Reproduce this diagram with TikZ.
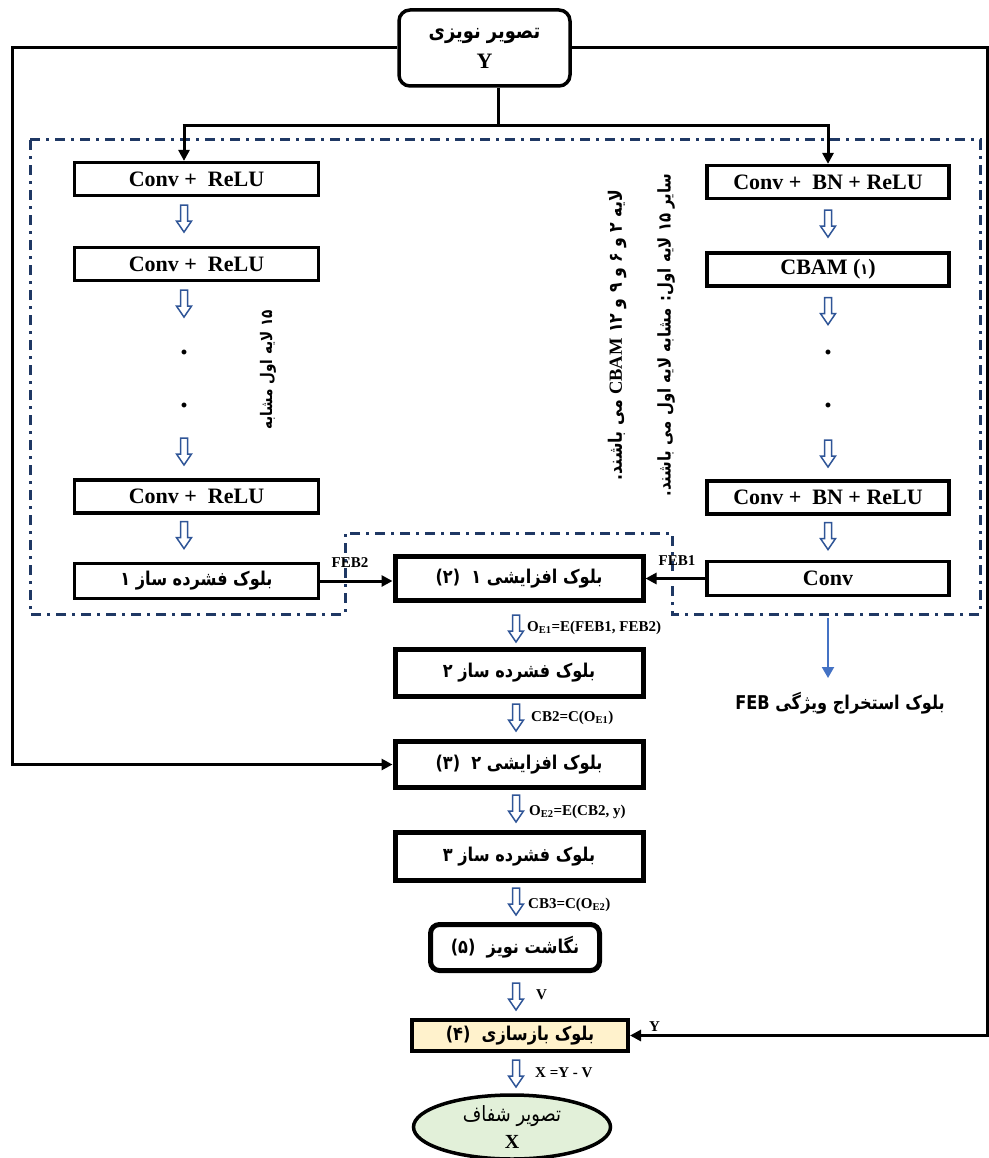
\documentclass[tikz,border=0pt]{standalone}
\usepackage{fontspec}
\setmainfont{Liberation Serif}
\newfontfamily\fa[Script=Arabic, FakeStretch=0.85]{DejaVu Sans}
\TeXXeTstate=1
\usetikzlibrary{arrows.meta,calc,shapes.geometric}
\definecolor{navy}{HTML}{1F3864}
\definecolor{harrow}{HTML}{2F5597}
\definecolor{thinblue}{HTML}{4472C4}
\definecolor{lightyellow}{HTML}{FFF2CC}
\definecolor{lightgreen}{HTML}{E2F0D9}
\newcommand{\fat}[1]{{\fa\bfseries\beginR #1\endR}}
\newcommand{\fan}[1]{{\fa\beginR #1\endR}}
\begin{document}
\begin{tikzpicture}[x=1pt,y=-1pt,
  box/.style={draw, line width=3.2pt, inner sep=0pt, align=center},
  cbox/.style={box, line width=5pt, minimum width=248pt},
  lat/.style={font=\fontsize{22}{24}\selectfont\bfseries},
  per/.style={font=\fontsize{19}{22}\selectfont},
  dotf/.style={font=\fontsize{30}{30}\selectfont\bfseries, inner sep=0pt},
  small/.style={font=\fontsize{15}{17}\selectfont\bfseries, inner sep=1pt},
  conn/.style={line width=3pt, -{Triangle[length=11pt,width=11pt]}},
  plain/.style={line width=3pt},
  hol/.style={draw=harrow, line width=1.5pt, fill=white, to path={
    let \p1=(\tikztostart) in
    (\x1-3.5pt,\y1-#1) -- (\x1+3.5pt,\y1-#1) -- (\x1+3.5pt,\y1-#1-16pt)
    -- (\x1+7.5pt,\y1-#1-16pt) -- (\x1,\y1-#1-27pt) -- (\x1-7.5pt,\y1-#1-16pt)
    -- (\x1-3.5pt,\y1-#1-16pt) -- cycle}},
  hol/.default=8pt,
  region/.style={draw=navy, line width=3pt, dash pattern=on 10pt off 6pt on 3pt off 6pt},
]
\useasboundingbox (0,0) rectangle (988,1158);

% dashed feature-extraction region
\draw[region] (30,140) -- (980,140) -- (980,614) -- (672,614) -- (672,533)
  -- (345,533) -- (345,614) -- (30,614) -- cycle;

% column coordinates
\coordinate (cl) at (184,0);
\coordinate (cr) at (828,0);
\coordinate (cc) at (516,0);
\coordinate (lp) at (12,0);
\coordinate (rp) at (987,0);
\coordinate (jt) at (498,126);
\coordinate (jl) at (184,126);
\coordinate (jr) at (828,126);

% top node
\node[box, line width=3.5pt, rounded corners=11pt, minimum width=171pt, minimum height=76pt,
  font=\fontsize{21}{26}\selectfont]
  (T) at (484.5,48) {\fat{تصویر نویزی}\\[4pt]{\fontsize{22}{24}\selectfont\bfseries Y}};

% left column
\node[box, lat, minimum width=244pt, minimum height=33pt] (L1) at (196.5,179) {Conv +\ \ ReLU};
\node[box, lat, minimum width=244pt, minimum height=33pt] (L2) at (196.5,264) {Conv +\ \ ReLU};
\node[dotf] (LD1) at (184,352) {.};
\node[dotf] (LD2) at (184,405) {.};
\node[box, lat, minimum width=244pt, minimum height=33pt] (L3) at (196.5,496.5) {Conv +\ \ ReLU};
\node[box, per, minimum width=244pt, minimum height=35pt] (L4) at (196.5,581) {\fat{بلوک فشرده ساز ۱}};

% right column
\node[box, lat, minimum width=242pt, minimum height=33pt] (R1) at (828,182) {Conv +\ \ BN + ReLU};
\node[box, lat, minimum width=242pt, minimum height=33pt] (R2) at (828,269.5) {CBAM ({\fa\fontsize{15}{15}\selectfont ۱})};
\node[dotf] (RD1) at (828,352) {.};
\node[dotf] (RD2) at (828,405) {.};
\node[box, lat, minimum width=242pt, minimum height=33pt] (R3) at (828,497.5) {Conv +\ \ BN + ReLU};
\node[box, lat, minimum width=242pt, minimum height=34pt] (R4) at (828,578.5) {Conv};

% vertical notes
\node[per, font=\fontsize{16}{18}\selectfont, rotate=90] (N1) at (268,370) {\fat{\beginL۱۵\endL{} لایه اول مشابه}};
\node[per, font=\fontsize{18.5}{20}\selectfont, rotate=90] (N2) at (617,335) {\fat{لایه \beginL۲\endL{} و \beginL۶\endL{} و \beginL۹\endL{} و \beginL۱۲\endL{} \beginL{\rmfamily CBAM}\endL{} می باشند.}};
\node[per, font=\fontsize{17.5}{20}\selectfont, rotate=90] (N3) at (666,335) {\fat{سایر \beginL۱۵\endL{} لایه اول: مشابه لایه اول می باشند.}};

% center column
\node[cbox, per, minimum height=44pt] (C1) at (519,578.5) {\fat{بلوک افزایشی \beginL۱\endL{}\ \ \beginL(۲)\endL}};
\node[cbox, per, minimum height=47pt] (C2) at (519,673) {\fat{بلوک فشرده ساز ۲}};
\node[cbox, per, minimum height=46pt] (C3) at (519,764.5) {\fat{بلوک افزایشی \beginL۲\endL{}\ \ \beginL(۳)\endL}};
\node[cbox, per, minimum height=48pt] (C4) at (519,856.5) {\fat{بلوک فشرده ساز ۳}};
\node[cbox, per, rounded corners=9pt, minimum width=169pt, minimum height=46pt] (C5) at (515,947.5) {\fat{نگاشت نویز\ \ \beginL(۵)\endL}};
\node[box, per, line width=4pt, fill=lightyellow, minimum width=216pt, minimum height=31pt] (C6) at (520,1035.5) {\fat{بلوک بازسازی\ \ \beginL(۴)\endL}};
\node[ellipse, draw, line width=3.5pt, fill=lightgreen, minimum width=197pt, minimum height=64pt, inner sep=0pt, align=center,
  font=\fontsize{21}{24}\selectfont]
  (E) at (512,1127) {\fan{تصویر شفاف}\\[3pt]{\fontsize{20}{22}\selectfont\bfseries X}};

% feature block label
\node[per] (FEB) at (840,703) {\fat{بلوک استخراج ویژگی \beginL FEB\endL}};
\coordinate (fb1) at (828,618);
\coordinate (fb2) at (828,678);

% top junction
\draw[plain] (T.south -| jt) -- (jt);
\draw[plain] ([xshift=-1.5pt]jl) -- ([xshift=1.5pt]jr);
\draw[conn] (jl) -- (L1.north -| jl);
\draw[conn] (jr) -- (R1.north);

% outer loops
\draw[conn] (T.west) -- (T.west -| lp) |- (C3.west);
\draw[conn] (T.east) -- (T.east -| rp) |- (C6.east);
\node[small, anchor=south west] (Ylab) at (648,1033) {Y};

% FEB links
\draw[conn] (L4.east) -- (L4.east -| C1.west);
\node[small] (F2) at (350,563) {FEB2};
\draw[conn] (R4.west) -- (R4.west -| C1.east);
\node[small] (F1) at (677,561) {FEB1};

% thin blue arrow
\draw[thinblue, line width=2pt, -{Triangle[length=11pt,width=12pt]}] (fb1) -- (fb2);

% hollow arrows: left
\draw[hol] (L1.south -| cl) to (L2.north -| cl);
\draw[hol] (L2.south -| cl) to (LD1);
\draw[hol=33pt] (LD2) to (L3.north -| cl);
\draw[hol=7pt] (L3.south -| cl) to (L4.north -| cl);
% right
\draw[hol=10pt] (R1.south) to (R2.north);
\draw[hol=10pt] (R2.south) to (RD1);
\draw[hol=35pt] (RD2) to (R3.north);
\draw[hol=7pt] (R3.south) to (R4.north);
% center
\draw[hol=12pt] (C1.south -| cc) to (C2.north -| cc);
\draw[hol=5pt] (C2.south -| cc) to (C3.north -| cc);
\draw[hol=5pt] (C3.south -| cc) to (C4.north -| cc);
\draw[hol=5pt] (C4.south -| cc) to (C5.north -| cc);
\draw[hol=10pt] (C5.south -| cc) to (C6.north -| cc);
\draw[hol=7pt] (C6.south -| cc) to (E.north -| cc);

% formula labels
\node[small, anchor=west] (f1) at (526,628) {O\textsubscript{E1}=E(FEB1, FEB2)};
\node[small, anchor=west] (f2) at (530,718) {CB2=C(O\textsubscript{E1})};
\node[small, anchor=west] (f3) at (528,812) {O\textsubscript{E2}=E(CB2, y)};
\node[small, anchor=west] (f4) at (527,905) {CB3=C(O\textsubscript{E2})};
\node[small, anchor=west] (f5) at (535,995) {V};
\node[small, anchor=west] (f6) at (534,1073) {X =Y - V};
\end{tikzpicture}
\end{document}
